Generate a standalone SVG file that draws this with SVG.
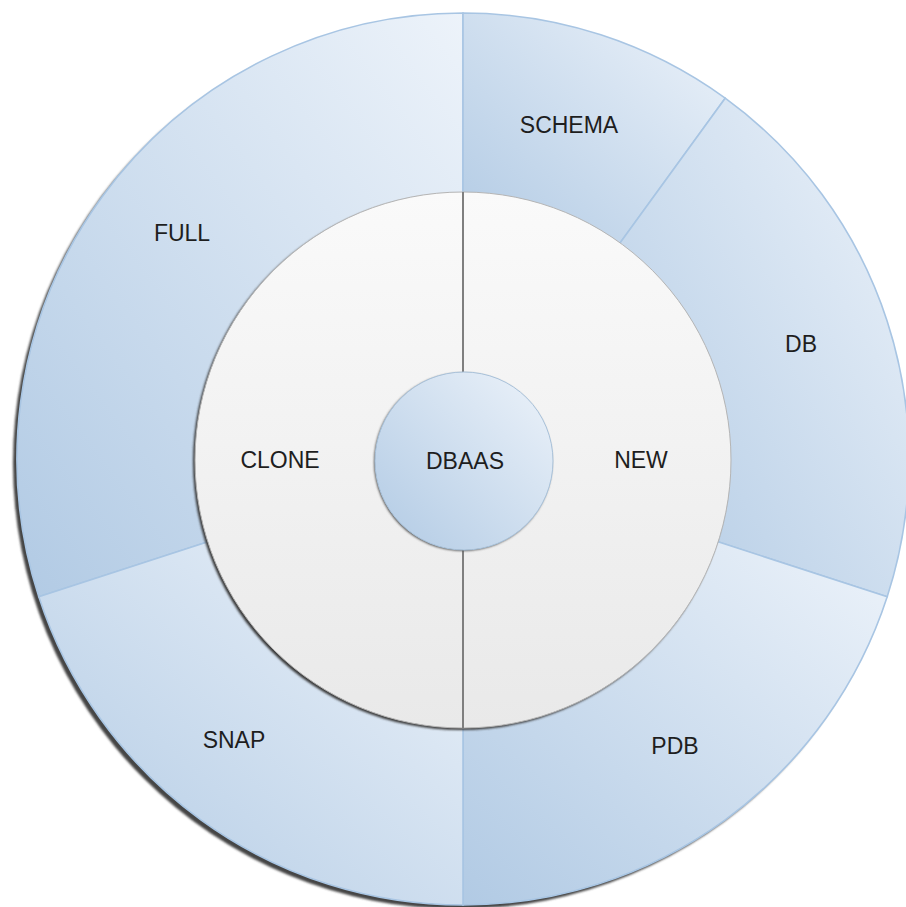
<svg xmlns="http://www.w3.org/2000/svg" width="906" height="907" viewBox="0 0 906 907">
  <style>
    .seg { stroke: #a8c5e3; stroke-width: 1.6; }
    .lbl { font-family: "Liberation Sans", Arial, sans-serif; font-size: 23px; fill: #1e1e1e; text-anchor: middle; }
  </style>
  <defs>
    <linearGradient id="blue" x1="0" y1="1" x2="1" y2="0">
      <stop offset="0" stop-color="#b1cae4"/>
      <stop offset="1" stop-color="#edf3fa"/>
    </linearGradient>
    <linearGradient id="gray" x1="0" y1="0" x2="0" y2="1">
      <stop offset="0" stop-color="#fafafa"/>
      <stop offset="1" stop-color="#e9e9e9"/>
    </linearGradient>
    <filter id="blur" x="-5%" y="-5%" width="110%" height="110%">
      <feGaussianBlur stdDeviation="1"/>
    </filter>
  </defs>

  <!-- shadows -->
  <circle cx="459" cy="463" r="446" fill="#444" filter="url(#blur)"/>

  <g id="FULL">
    <path class="seg" fill="url(#blue)" d="M38.8,596.8 A446,446 0 0 1 463,13 L463,199 A260,260 0 0 0 215.7,539.3 Z"/>
    <text class="lbl" x="182" y="241">FULL</text>
  </g>
  <g id="SCHEMA">
    <path class="seg" fill="url(#blue)" d="M463,13 A446,446 0 0 1 725.2,98.2 L615.8,248.7 A260,260 0 0 0 463,199 Z"/>
    <text class="lbl" x="569" y="133">SCHEMA</text>
  </g>
  <g id="DB">
    <path class="seg" fill="url(#blue)" d="M725.2,98.2 A446,446 0 0 1 887.2,596.8 L710.3,539.3 A260,260 0 0 0 615.8,248.7 Z"/>
    <text class="lbl" x="801" y="352">DB</text>
  </g>
  <g id="PDB">
    <path class="seg" fill="url(#blue)" d="M887.2,596.8 A446,446 0 0 1 463,905 L463,719 A260,260 0 0 0 710.3,539.3 Z"/>
    <text class="lbl" x="675" y="754">PDB</text>
  </g>
  <g id="SNAP">
    <path class="seg" fill="url(#blue)" d="M463,905 A446,446 0 0 1 38.8,596.8 L215.7,539.3 A260,260 0 0 0 463,719 Z"/>
    <text class="lbl" x="234" y="748">SNAP</text>
  </g>

  <!-- middle ring -->
  <circle cx="461" cy="462" r="268" fill="#3a3a3a" filter="url(#blur)"/>
  <g id="CLONE">
    <path fill="url(#gray)" d="M463,192 A268,268 0 0 0 463,728 Z"/>
    <text class="lbl" x="280" y="468">CLONE</text>
  </g>
  <g id="NEW">
    <path fill="url(#gray)" d="M463,192 A268,268 0 0 1 463,728 Z"/>
    <text class="lbl" x="641" y="468">NEW</text>
  </g>
  <circle cx="463" cy="460" r="268" fill="none" stroke="#b5b5b5" stroke-width="1"/>

  <g id="connectors">
    <line x1="463" y1="192" x2="463" y2="728" stroke="#7f7f7f" stroke-width="2"/>
  </g>

  <g id="DBAAS">
    <circle cx="463" cy="462" r="89" fill="#555" filter="url(#blur)"/>
    <circle cx="464" cy="461" r="89" fill="url(#blue)" stroke="#a9c2da" stroke-width="1"/>
    <text class="lbl" x="465" y="469">DBAAS</text>
  </g>
</svg>
